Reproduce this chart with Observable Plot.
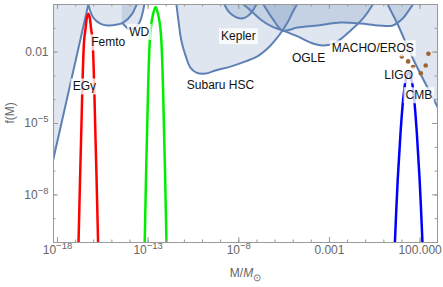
<!DOCTYPE html>
<html><head><meta charset="utf-8">
<script src="https://cdn.jsdelivr.net/npm/d3@7"></script>
<script src="https://cdn.jsdelivr.net/npm/@observablehq/plot@0.6"></script>
<style>
html,body{margin:0;padding:0;background:#fff;}
#chart svg{display:block;}
</style></head><body><div id="chart"></div>
<script>
// ---------- data (log10 M/Msun, log10 f) ----------
const egammaLogM = [-18.5, -16.30];
const egammaLogF = [-7.41, 0];
const femtoLogM = [-16.30,-16.03,-15.64,-15.25,-14.70,-14.37,-13.87,-13.71,-13.60];
const femtoLogF = [0,-0.55,-0.80,-0.88,-0.84,-0.76,-0.38,-0.13,0.04];
const wdLogM = [-14.43,-13.98,-13.54,-13.21];
const wdLogF = [-0.77,-1.05,-0.84,0];
const subaruLogM = [-11.44,-11.33,-11.17,-10.94,-10.67,-10.34,-9.84,-9.29,-8.46,-7.63,-6.97,-6.36,-5.92,-5.59,-5.25,-4.98,-4.76];
const subaruLogF = [0,-0.67,-1.51,-2.14,-2.65,-2.86,-2.90,-2.77,-2.61,-2.39,-2.18,-1.81,-1.43,-1.09,-0.67,-0.25,0.04];
const keplerLogM = [-8.79,-8.57,-8.24,-7.85,-7.46,-7.19,-7.02];
const keplerLogF = [0,-0.29,-0.50,-0.59,-0.46,-0.21,0.04];
const ogleLogM = [-7.74,-7.35,-6.80,-6.19,-5.59,-4.76,-4.04,-3.38,-2.66,-1.83,-1.11,-0.61];
const ogleLogF = [0,-0.25,-0.63,-0.92,-1.09,-1.34,-1.60,-1.72,-1.60,-1.09,-0.55,0];
const machoLogM = [-6.64,-6.14,-5.59,-4.76,-3.65,-2.38,-1.28,-0.28,0.49,1.04,1.38,1.60];
const machoLogF = [0,-0.59,-1.09,-0.97,-0.88,-0.76,-0.80,-0.88,-0.88,-0.59,-0.25,0];
const cmbLogM = [0.0,0.215,0.75,1.652,2.978,3.3];
const cmbLogF = [0.34,0,-0.81,-2.353,-4.33,-4.85];

const redLogM = [-16.91,-16.84,-16.70,-16.53,-16.45,-16.38,-16.30,-16.22,-16.15,-16.07,-15.90,-15.76,-15.69];
const redLogF = [-12.2,-10.0,-5.7,-1.5,-1.0,-0.55,-0.39,-0.55,-1.0,-1.5,-5.7,-10.0,-12.2];
const greenLogM = [-13.25,-13.19,-13.07,-12.88,-12.74,-12.59,-12.44,-12.30,-12.11,-11.99,-11.93];
const greenLogF = [-12.0,-10.0,-5.7,-1.2,-0.45,-0.10,-0.45,-1.2,-5.7,-10.0,-12.0];
const blueLogM = [0.52,0.61,0.77,0.92,1.07,1.22,1.37,1.52,1.67,1.82,1.97,2.13,2.22];
const blueLogF = [-11.8,-10.0,-7.3,-5.4,-3.97,-3.13,-2.86,-3.13,-3.97,-5.4,-7.3,-10.0,-11.8];

const ligoLogM = [0.99,1.34,1.61,2.04,2.31,2.46];
const ligoLogF = [-2.18,-2.39,-2.63,-2.89,-2.56,-2.07];

const labelNames = ["EGγ","Femto","WD","Kepler","Subaru HSC","OGLE","MACHO/EROS","LIGO","CMB"];
const labelLogM = [-16.52,-15.20,-13.49,-8.02,-9.01,-4.15,-0.61,0.82,1.93];
const labelLogF = [-3.45,-1.60,-1.16,-1.34,-3.38,-2.27,-1.85,-2.98,-3.82];

const xTickValues = [1e-18, 1e-13, 1e-8, 1e-3, 1e2];
const xTickLabels = ["10^-18", "10^-13", "10^-8", "0.001", "100.000"];
const yTickValues = [1e-2, 1e-5, 1e-8];
const yTickLabels = ["0.01", "10^-5", "10^-8"];
const xMinorExp = d3.range(-18, 3);
const yMinorExp = d3.range(-10, 1);

// ---------- layout / style ----------
const W = 443, H = 287, mL = 53, mR = 6, mT = 4, mB = 45;
const innerW = W - mL - mR, innerH = H - mT - mB;
const xDomain = [10 ** -18.22, 10 ** 2.96];
const yDomain = [1e-10, 1];
const fTop = 1;
const regionColor = "#5e81b5";
const frameColor = "#9a9a9a";
const tickText = "#666";
const labelColor = "#111111";

const pts = (lm, lf) => lm.map((m, i) => ({M: 10 ** m, f: 10 ** lf[i]}));
const regions = [
  {pts: pts(egammaLogM, egammaLogF), curve: "linear"},
  {pts: pts(femtoLogM, femtoLogF), curve: "catmull-rom"},
  {pts: pts(wdLogM, wdLogF), curve: "catmull-rom"},
  {pts: pts(subaruLogM, subaruLogF), curve: "catmull-rom"},
  {pts: pts(keplerLogM, keplerLogF), curve: "catmull-rom"},
  {pts: pts(ogleLogM, ogleLogF), curve: "catmull-rom"},
  {pts: pts(machoLogM, machoLogF), curve: "catmull-rom"},
  {pts: pts(cmbLogM, cmbLogF), curve: "catmull-rom"}
];
const pbh = [
  {pts: pts(redLogM, redLogF), color: "#ff0000"},
  {pts: pts(greenLogM, greenLogF), color: "#00ee00"},
  {pts: pts(blueLogM, blueLogF), color: "#0000ff"}
];
const labels = labelNames.map((n, i) => ({name: n, M: 10 ** labelLogM[i], f: 10 ** labelLogF[i]}));
const ligo = pts(ligoLogM, ligoLogF);

const xMinor = xMinorExp.map(e => 10 ** e);
const yMinor = yMinorExp.map(e => 10 ** e);

const marks = [
  ...regions.map(r => Plot.areaY(r.pts, {x: "M", y1: "f", y2: () => fTop, curve: r.curve, fill: regionColor, fillOpacity: 0.2, clip: true})),
  ...regions.map(r => Plot.line(r.pts, {x: "M", y: "f", curve: r.curve, stroke: regionColor, strokeWidth: 2, clip: true})),
  Plot.dot(ligo, {x: "M", y: "f", r: 2.3, fill: "#9e6230", stroke: "none"}),
  ...pbh.map(p => Plot.line(p.pts, {x: "M", y: "f", curve: "catmull-rom", stroke: p.color, strokeWidth: 2.5, clip: true})),
  Plot.text(labels, {x: "M", y: "f", text: "name", fill: labelColor, fontSize: 12}),
  Plot.frame({stroke: frameColor}),
  // inward ticks
  Plot.ruleX(xMinor, {insetTop: innerH - 2.5, stroke: frameColor}),
  Plot.ruleX(xTickValues, {insetTop: innerH - 5, stroke: frameColor}),
  Plot.ruleX(xMinor, {insetBottom: innerH - 2.5, stroke: frameColor}),
  Plot.ruleX(xTickValues, {insetBottom: innerH - 5, stroke: frameColor}),
  Plot.ruleY(yMinor, {insetRight: innerW - 2.5, stroke: frameColor}),
  Plot.ruleY(yTickValues, {insetRight: innerW - 5, stroke: frameColor}),
  Plot.ruleY(yMinor, {insetLeft: innerW - 2.5, stroke: frameColor}),
  Plot.ruleY(yTickValues, {insetLeft: innerW - 5, stroke: frameColor}),
  // tick labels
  Plot.text(xTickValues, {x: d => d, text: (d, i) => xTickLabels[i], frameAnchor: "bottom", dy: 11, fill: tickText, fontSize: 12}),
  Plot.text(yTickValues, {y: d => d, text: (d, i) => yTickLabels[i], frameAnchor: "left", dx: -5, textAnchor: "end", fill: tickText, fontSize: 12}),
  // axis titles
  Plot.text(["f(M)"], {frameAnchor: "left", dx: -43, rotate: -90, text: d => d, fill: tickText, fontSize: 12}),
  Plot.text(["M/M⊙"], {frameAnchor: "bottom", dy: 34, text: d => d, fill: tickText, fontSize: 12})
];

const svg = Plot.plot({
  width: W, height: H,
  marginLeft: mL, marginRight: mR, marginTop: mT, marginBottom: mB,
  x: {type: "log", domain: xDomain, axis: null},
  y: {type: "log", domain: yDomain, axis: null},
  style: {fontFamily: "'Liberation Sans', Arial, sans-serif", fontSize: "12px", background: "#fff", overflow: "visible"},
  marks
});
document.getElementById("chart").appendChild(svg);

const NS = "http://www.w3.org/2000/svg";
// superscript exponents in tick labels, subscript in axis title
svg.querySelectorAll("text").forEach(t => {
  const m = /^10\^(-?\d+)$/.exec(t.textContent);
  if (m) {
    t.textContent = "10";
    const s = document.createElementNS(NS, "tspan");
    s.setAttribute("dy", "-5");
    s.setAttribute("font-size", "9.5");
    s.textContent = m[1].replace("-", "\u2212");
    t.appendChild(s);
  } else if (t.textContent === "M/M⊙") {
    t.textContent = "M/";
    const it = document.createElementNS(NS, "tspan");
    it.setAttribute("font-style", "italic");
    it.textContent = "M";
    const sub = document.createElementNS(NS, "tspan");
    sub.setAttribute("dy", "4");
    sub.setAttribute("font-size", "10");
    sub.textContent = "⊙";
    t.appendChild(it); t.appendChild(sub);
  }
});

// label background boxes (drawn under the PBH curves and the label text)
try {
  const svgRect = svg.getBoundingClientRect();
  const labelG = [...svg.querySelectorAll('g[aria-label="text"]')].find(g => g.getAttribute("fill") === labelColor);
  const firstPbh = [...svg.querySelectorAll('g[aria-label="line"]')].find(g => g.getAttribute("stroke") === "#ff0000");
  const boxG = document.createElementNS(NS, "g");
  labelG.querySelectorAll("text").forEach(t => {
    const r = t.getBoundingClientRect();
    const rect = document.createElementNS(NS, "rect");
    rect.setAttribute("x", r.left - svgRect.left - 2);
    rect.setAttribute("y", r.top - svgRect.top - 1);
    rect.setAttribute("width", r.width + 4);
    rect.setAttribute("height", r.height + 2);
    rect.setAttribute("fill", "#fff");
    rect.setAttribute("fill-opacity", "0.78");
    boxG.appendChild(rect);
  });
  (firstPbh || labelG).parentNode.insertBefore(boxG, firstPbh || labelG);
} catch (e) { console.error(e); }
</script></body></html>
